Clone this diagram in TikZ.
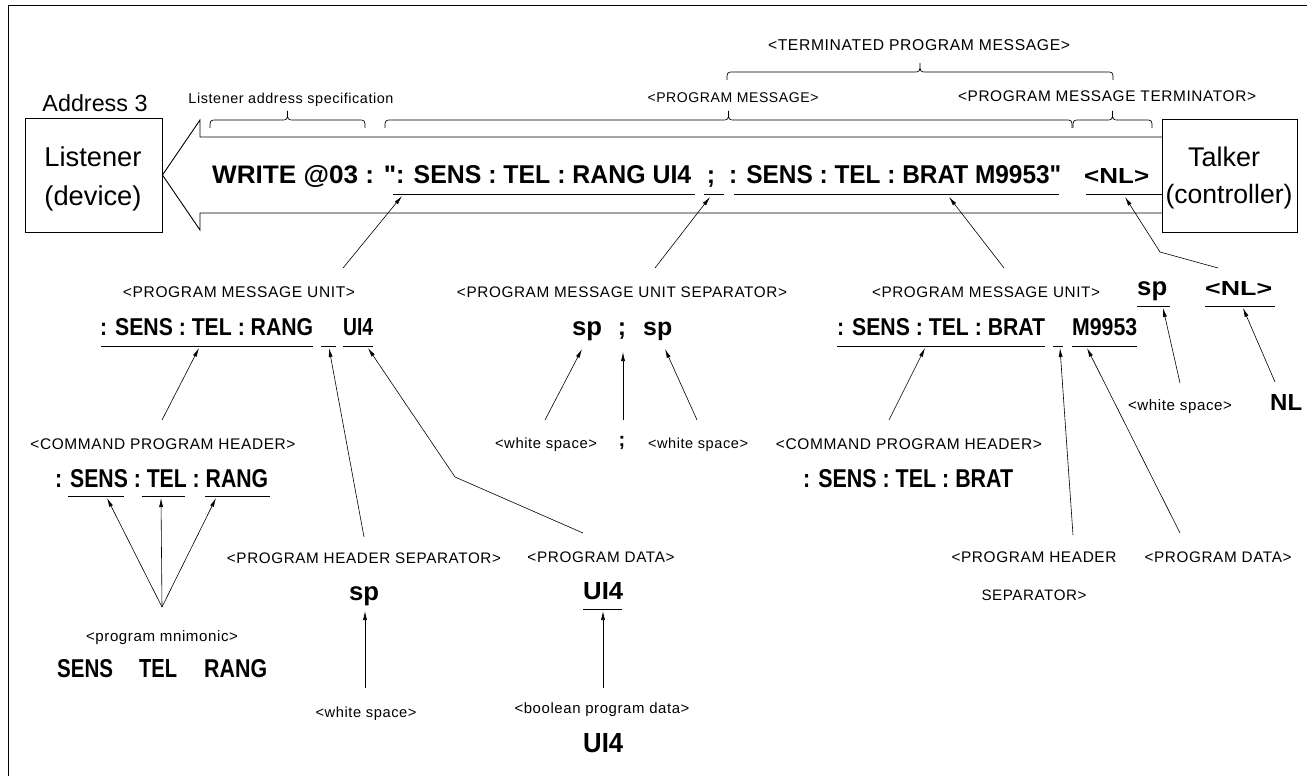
\documentclass[tikz,border=0pt]{standalone}
\usepackage{graphicx}
\usepackage{fontspec}
\setmainfont{Liberation Sans}[Ligatures=TeXOff]
\newfontfamily\lblfont[LetterSpace=4]{Liberation Sans}
\usetikzlibrary{arrows.meta}
\newcommand\smlbl[2]{\resizebox{#1pt}{!}{\lblfont\fontsize{14}{16}\selectfont #2}}
\newcommand\cd[3]{\resizebox{#1pt}{#2pt}{\bfseries #3}}
\newcommand\fw[2]{\resizebox{#1pt}{!}{#2}}
\newcommand\qt{\char34}
\newcommand\bracepath[5]{% x1 x2 ybase yend ytip
  \draw[brc] (#1,#4) .. controls (#1,#3) .. ({#1+7},#3) -- ({(#1+#2)/2-7},#3)
    .. controls ({(#1+#2)/2},#3) .. ({(#1+#2)/2},#5)
    .. controls ({(#1+#2)/2},#3) .. ({(#1+#2)/2+7},#3) -- ({#2-7},#3)
    .. controls (#2,#3) .. (#2,#4);}
\begin{document}
\begin{tikzpicture}[x=1pt,y=-1pt,
  lbl/.style={inner sep=0pt, anchor=base},
  code/.style={inner sep=0pt, anchor=base west},
  arr/.style={-{Latex[length=9pt,width=4pt]}, line width=0.6pt},
  ul/.style={line width=0.8pt},
  brc/.style={line width=0.7pt},
  boxln/.style={line width=0.9pt},
  boxn/.style={draw, line width=0.9pt, inner sep=0pt}]
\useasboundingbox (0,0) rectangle (1307,776);
\draw[line width=0.8pt] (8,776) -- (8,5) -- (1307,5);

% ---------- boxes ----------
\node[boxn, minimum width=137pt, minimum height=114pt] (lisbox) at (93.5,175) {};
\node[boxn, minimum width=135pt, minimum height=113pt] (tkbox) at (1229.5,175.5) {};
\node[lbl] (addr) at (95,111) {\fw{105}{Address 3}};
\node[lbl] (lis1) at (93,166) {\fw{97}{Listener}};
\node[lbl] (lis2) at (93,205) {\fw{97}{(device)}};
\node[lbl] (tk1) at (1224,166) {\fw{72}{Talker}};
\node[lbl] (tk2) at (1229,203) {\fw{127}{(controller)}};

% ---------- banner arrow ----------
\draw[boxln] (lisbox.east) -- (200,120) -- (200,137) -- (1162,137);
\draw[boxln] (lisbox.east) -- (200,230) -- (200,213) -- (1162,213);

% ---------- braces ----------
\bracepath{727}{1113}{72}{80}{63}
\bracepath{210}{365}{120}{128}{111}
\bracepath{385}{1072}{120}{128}{111}
\bracepath{1073}{1152}{120}{128}{111}

% ---------- top labels ----------
\node[lbl] (tpm) at (919,51) {\smlbl{302}{<TERMINATED PROGRAM MESSAGE>}};
\node[lbl] (las) at (291,103) {\smlbl{205}{Listener address specification}};
\node[lbl] (pm) at (733,102) {\smlbl{171}{<PROGRAM MESSAGE>}};
\node[lbl] (pmt) at (1107,102) {\smlbl{298}{<PROGRAM MESSAGE TERMINATOR>}};

% ---------- banner text ----------
\node[code] (mA) at (212,183) {\cd{184}{18}{WRITE @03 : \qt}};
\node[code] (mB) at (396,183) {\cd{295}{18}{: SENS : TEL : RANG UI4}};
\node[lbl] (mS) at (711,183) {\fontsize{25}{25}\selectfont\bfseries ;};
\node[code] (mC) at (729,183) {\cd{332}{18}{: SENS : TEL : BRAT M9953\qt}};
\node[code] (mD) at (1084,183) {\cd{65}{15}{<NL>}};
\draw[ul] (393,194) -- (695,194);
\draw[ul] (704,194) -- (724,194);
\draw[ul] (734,194) -- (1059,194);
\draw[ul] (1086,194) -- (1162,194);

% ---------- second row labels ----------
\node[lbl] (pmu1) at (239,297) {\smlbl{232}{<PROGRAM MESSAGE UNIT>}};
\node[lbl] (pmus) at (622,297) {\smlbl{330}{<PROGRAM MESSAGE UNIT SEPARATOR>}};
\node[lbl] (pmu2) at (986,297) {\smlbl{228}{<PROGRAM MESSAGE UNIT>}};

% left PMU
\node[code] (pu1a) at (100,335) {\cd{213}{17}{: SENS : TEL : RANG}};
\node[code] (pu1b) at (343,335) {\cd{30}{17}{UI4}};
\draw[ul] (101,346) -- (313,346);
\draw[ul] (321,346) -- (336,346);
\draw[ul] (343,346) -- (373,346);

% middle separator
\node[code] (spL) at (572,335) {\fw{30}{\bfseries sp}};
\node[lbl] (semi) at (622,335) {\fontsize{25}{25}\selectfont\bfseries ;};
\node[code] (spR) at (643,335) {\fw{29}{\bfseries sp}};

% right PMU
\node[code] (pu2a) at (837,335) {\cd{208}{17}{: SENS : TEL : BRAT}};
\node[code] (pu2b) at (1072,335) {\cd{65}{17}{M9953}};
\draw[ul] (837,346) -- (1045,346);
\draw[ul] (1053,346) -- (1063,346);
\draw[ul] (1072,346) -- (1137,346);

% sp and <NL> right
\node[code] (spr) at (1137,295) {\fw{30}{\bfseries sp}};
\node[code] (nlr) at (1205,295) {\cd{67}{14}{<NL>}};
\draw[ul] (1137,306) -- (1170,306);
\draw[ul] (1205,306) -- (1275,306);
\node[lbl] (ws3) at (1180,410) {\smlbl{104}{<white space>}};
\node[code] (nlb) at (1270,410) {\cd{32}{16}{NL}};

% ---------- third row ----------
\node[lbl] (cph1) at (163,449) {\smlbl{265}{<COMMAND PROGRAM HEADER>}};
\node[lbl] (ws1) at (546,448) {\smlbl{102}{<white space>}};
\node[lbl] (bsemi) at (622,446) {\fontsize{20}{20}\selectfont\bfseries ;};
\node[lbl] (ws2) at (698,448) {\smlbl{100}{<white space>}};
\node[lbl] (cph2) at (909,449) {\smlbl{266}{<COMMAND PROGRAM HEADER>}};

\node[code] (ch1) at (55,487) {\cd{213}{18}{: SENS : TEL : RANG}};
\draw[ul] (68,496) -- (124,496);
\draw[ul] (142,496) -- (185,496);
\draw[ul] (205,496) -- (270,496);
\node[code] (ch2) at (803,487) {\cd{210}{18}{: SENS : TEL : BRAT}};

% ---------- fourth row ----------
\node[lbl] (phs1) at (364,563) {\smlbl{274}{<PROGRAM HEADER SEPARATOR>}};
\node[lbl] (pd1) at (601,562) {\smlbl{147}{<PROGRAM DATA>}};
\node[lbl] (phs2a) at (1034,562) {\smlbl{165}{<PROGRAM HEADER}};
\node[lbl] (phs2b) at (1034,600) {\smlbl{105}{SEPARATOR>}};
\node[lbl] (pd2) at (1218,562) {\smlbl{147}{<PROGRAM DATA>}};

\node[code] (sp1) at (349,600) {\fw{30}{\bfseries sp}};
\node[code] (ud1) at (583,599) {\cd{40}{17}{UI4}};
\draw[ul] (583,609) -- (622,609);

\node[lbl] (pmn) at (162,641) {\smlbl{152}{<program mnimonic>}};
\node[code] (mn1) at (57,677) {\cd{56}{18}{SENS}};
\node[code] (mn2) at (139,677) {\cd{38}{18}{TEL}};
\node[code] (mn3) at (204,677) {\cd{63}{18}{RANG}};

\node[lbl] (ws4) at (366,717) {\smlbl{101}{<white space>}};
\node[lbl] (bpd) at (602,713) {\smlbl{175}{<boolean program data>}};
\node[code] (ub) at (583,752) {\cd{40}{19}{UI4}};

% ---------- connector end points ----------
\coordinate (c1s) at (343,268);  \coordinate (c1e) at (402,196);
\coordinate (c2s) at (655,268);  \coordinate (c2e) at (710,197);
\coordinate (c3s) at (1004,268); \coordinate (c3e) at (949,197);
\coordinate (c4s) at (1218,268); \coordinate (c4m) at (1160,252); \coordinate (c4e) at (1125,197);
\coordinate (c5s) at (162,420);  \coordinate (c5e) at (199,348);
\coordinate (c6s) at (364,537);  \coordinate (c6e) at (329,348);
\coordinate (c7s) at (583,533);  \coordinate (c7m) at (455,477); \coordinate (c7e) at (368,348);
\coordinate (c8s) at (162,607);
\coordinate (c8a) at (107,498);  \coordinate (c8b) at (161,498); \coordinate (c8c) at (216,498);
\coordinate (c9s) at (365,688);  \coordinate (c9e) at (365,611);
\coordinate (c10s) at (603,688); \coordinate (c10e) at (603,611);
\coordinate (c11s) at (545,420); \coordinate (c11e) at (582,349);
\coordinate (c12s) at (623,420); \coordinate (c12e) at (623,352);
\coordinate (c13s) at (697,420); \coordinate (c13e) at (665,349);
\coordinate (c14s) at (889,420); \coordinate (c14e) at (925,348);
\coordinate (c15s) at (1073,535);\coordinate (c15e) at (1060,348);
\coordinate (c16s) at (1180,533);\coordinate (c16e) at (1087,348);
\coordinate (c17s) at (1180,383);\coordinate (c17e) at (1163,308);
\coordinate (c18s) at (1275,382);\coordinate (c18e) at (1243,308);

% ---------- connectors ----------
\draw[arr] (c1s) -- (c1e);
\draw[arr] (c2s) -- (c2e);
\draw[arr] (c3s) -- (c3e);
\draw[arr] (c4s) -- (c4m) -- (c4e);
\draw[arr] (c5s) -- (c5e);
\draw[arr] (c6s) -- (c6e);
\draw[arr] (c7s) -- (c7m) -- (c7e);
\draw[arr] (c8s) -- (c8a);
\draw[arr] (c8s) -- (c8b);
\draw[arr] (c8s) -- (c8c);
\draw[arr] (c9s) -- (c9e);
\draw[arr] (c10s) -- (c10e);
\draw[arr] (c11s) -- (c11e);
\draw[arr] (c12s) -- (c12e);
\draw[arr] (c13s) -- (c13e);
\draw[arr] (c14s) -- (c14e);
\draw[arr] (c15s) -- (c15e);
\draw[arr] (c16s) -- (c16e);
\draw[arr] (c17s) -- (c17e);
\draw[arr] (c18s) -- (c18e);
\end{tikzpicture}
\end{document}
